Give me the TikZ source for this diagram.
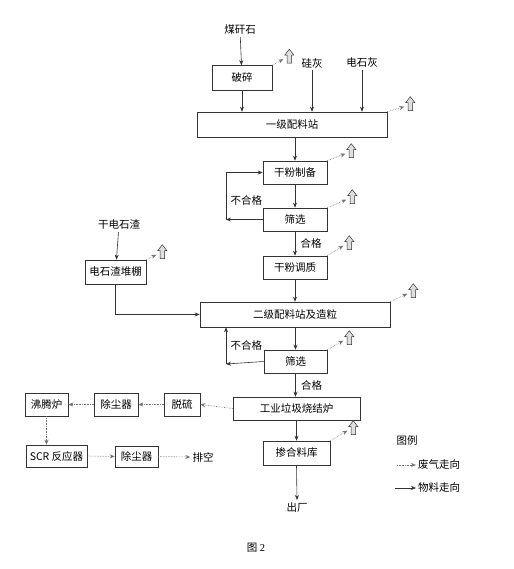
\documentclass[tikz,border=0pt]{standalone}
\usepackage{fontspec}
\setmainfont{Noto Sans CJK SC}
\newfontfamily\latinserif{Liberation Serif}
\usetikzlibrary{positioning,calc,arrows.meta}

\tikzset{
    procbox/.style={draw=black!80, line width=0.6pt, minimum height=23pt, inner sep=0pt, fill=white},
    plain/.style={inner sep=2pt},
    flow/.style={draw=black!80, line width=0.6pt, -{Stealth[length=5pt,width=4pt]}},
    gas/.style={draw=black!55, line width=0.6pt, densely dotted, -{Stealth[length=5pt,width=4pt]}},
    stack/.pic={
        \draw[black!80, line width=0.5pt, fill=gray!25]
            (-2.3,0) -- (-2.3,-8) -- (-4.6,-8) -- (0,-14) -- (4.6,-8) -- (2.3,-8) -- (2.3,0) -- cycle;
    }
}

% exhaust outlet: node, dx, dy
\newcommand{\gasout}[3]{%
    \coordinate (#1-gas) at ($(#1.north east)+(#2,-#3)$);
    \draw[gas] (#1.north east) -- ($(#1-gas)+(-6,-4)$);
    \pic at (#1-gas) {stack};
}

\begin{document}
\begin{tikzpicture}[x=1pt, y=-1pt, font=\fontsize{10.5}{12}\selectfont]
\useasboundingbox (0,0) rectangle (513,569);

% inputs
\node[plain] (mgs) at (240,30) {煤矸石};
\node[plain] (gh) at (312,63) {硅灰};
\node[plain] (dsh) at (362,63) {电石灰};
\node[plain] (gdsz) at (119,225) {干电石渣};

% main line
\node[procbox, minimum width=60pt, minimum height=25pt] (posui) at (242,78) {破碎};
\node[procbox, minimum width=190pt, minimum height=25pt] (pl1) at (292,124.5) {一级配料站};
\node[procbox, minimum width=64pt] (gfzb) at (295,172.5) {干粉制备};
\node[procbox, minimum width=64pt] (sx1) at (295,219.5) {筛选};
\node[procbox, minimum width=64pt] (gftz) at (295,267.5) {干粉调质};
\node[procbox, minimum width=61pt, minimum height=24pt] (dszp) at (115.5,272) {电石渣堆棚};
\node[procbox, minimum width=190pt, minimum height=25pt] (pl2) at (295,314.5) {二级配料站及造粒};
\node[procbox, minimum width=63pt] (sx2) at (295.5,361.5) {筛选};
\node[procbox, minimum width=127pt] (sjl) at (296.5,408.5) {工业垃圾烧结炉};
\node[procbox, minimum width=67pt, minimum height=24pt] (chl) at (296.5,453) {掺合料库};
\node[plain] (chuchang) at (297,507) {出厂};

% flue gas line
\node[procbox, minimum width=36pt] (tuoliu) at (182,404.5) {脱硫};
\node[procbox, minimum width=44pt] (ccq1) at (116,404.5) {除尘器};
\node[procbox, minimum width=43pt] (ftl) at (46.5,404.5) {沸腾炉};
\node[procbox, minimum width=61pt, minimum height=22pt] (scr) at (56.5,456) {SCR 反应器};
\node[procbox, minimum width=43pt, minimum height=21pt] (ccq2) at (136.5,456.5) {除尘器};
\node[plain] (paikong) at (203,457) {排空};

% material flow
\draw[flow] (mgs) -- (posui);
\draw[flow] (posui.south) -- (posui.south |- pl1.north);
\draw[flow] (gh) -- (gh |- pl1.north);
\draw[flow] (dsh) -- (dsh |- pl1.north);
\draw[flow] (gfzb.north |- pl1.south) -- (gfzb.north);
\draw[flow] (gfzb) -- (sx1);
\draw[flow] (sx1) -- node[right=2pt] {合格} (gftz);
\coordinate (back1) at (226,219.5);
\draw[flow] (sx1.west) -- (back1);
\draw[flow] (back1) |- node[pos=0.2, right=1pt] {不合格} (gfzb.west);
\draw[flow] (gftz.south) -- (gftz.south |- pl2.north);
\draw[flow] (gdsz) -- (dszp);
\draw[flow] (dszp.south) |- (pl2.west);
\draw[flow] (sx2.north |- pl2.south) -- (sx2.north);
\coordinate (back2) at (226,364);
\draw[flow] (sx2.west) -- (back2);
\draw[flow] (back2) -- node[pos=0.5, right=1pt] {不合格} (back2 |- pl2.south);
\draw[flow] (sx2.south) -- node[right=2pt] {合格} (sx2.south |- sjl.north);
\draw[flow] (chl.north |- sjl.south) -- (chl.north);
\draw[flow] (chl.south) -- (chuchang.north);

% flue gas flow
\draw[gas] (sjl.west) -- (tuoliu.east);
\draw[gas] (tuoliu.west) -- (ccq1.east);
\draw[gas] (ccq1.west) -- (ftl.east);
\draw[gas] (ftl.south) -- (ftl.south |- scr.north);
\draw[gas] (scr.east) -- (ccq2.west);
\draw[gas] (ccq2.east) -- (paikong.west);

% exhaust outlets
\gasout{posui}{17}{2}
\gasout{pl1}{23}{1}
\gasout{gfzb}{24}{3}
\gasout{sx1}{25}{4}
\gasout{gftz}{22}{6}
\gasout{dszp}{16}{1}
\gasout{pl2}{23}{4}
\gasout{sx2}{22}{5}
\gasout{chl}{23}{6}

% legend
\node[plain] (lgtitle) at (407,441) {图例};
\node[plain, anchor=west] (lggas) at (416,465) {废气走向};
\node[plain, anchor=west] (lgflow) at (416,488) {物料走向};
\coordinate (lgg) at (397,465);
\coordinate (lgf) at (395,488);
\draw[gas] (lgg) -- (lggas.west);
\draw[flow] (lgf) -- (lgflow.west);

% caption
\node[plain] (caption) at (256,548) {图 {\latinserif 2}};
\end{tikzpicture}
\end{document}
